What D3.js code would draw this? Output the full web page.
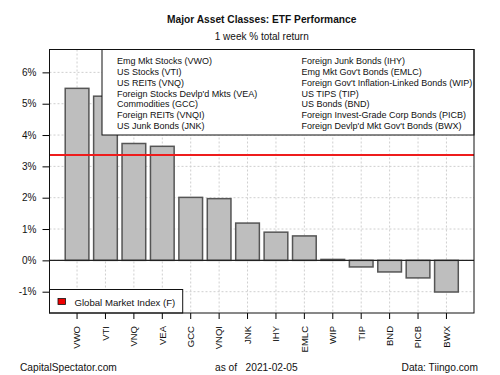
<!DOCTYPE html>
<html>
<head>
<meta charset="utf-8">
<script src="https://cdn.jsdelivr.net/npm/d3@7"></script>
<style>
  body { margin: 0; background: #fff; }
  text { font-family: Arial, "Liberation Sans", sans-serif; fill: #111; }
</style>
</head>
<body>
<div id="chart"></div>
<script>
// tickers in bar order
const tickers = ["VWO", "VTI", "VNQ", "VEA", "GCC", "VNQI", "JNK", "IHY", "EMLC", "WIP", "TIP", "BND", "PICB", "BWX"];
// 1 week % total return
const returns = [5.49, 5.24, 3.73, 3.64, 2.01, 1.97, 1.19, 0.90, 0.78, 0.03, -0.21, -0.37, -0.56, -1.01];
const gmiReturn = 3.36;
const yTicks = [-1, 0, 1, 2, 3, 4, 5, 6];
const legendLeft = ["Emg Mkt Stocks (VWO)", "US Stocks (VTI)", "US REITs (VNQ)", "Foreign Stocks Devlp'd Mkts (VEA)",
  "Commodities (GCC)", "Foreign REITs (VNQI)", "US Junk Bonds (JNK)"];
const legendRight = ["Foreign Junk Bonds (IHY)", "Emg Mkt Gov't Bonds (EMLC)", "Foreign Gov't Inflation-Linked Bonds (WIP)",
  "US TIPS (TIP)", "US Bonds (BND)", "Foreign Invest-Grade Corp Bonds (PICB)", "Foreign Devlp'd Mkt Gov't Bonds (BWX)"];

const W = 500, H = 375;
const plot = { left: 49.5, right: 474, top: 49.5, bottom: 313 };

const svg = d3.select("#chart").append("svg")
  .attr("width", W).attr("height", H);

const x = d3.scaleBand()
  .domain(tickers)
  .range([plot.left, plot.right])
  .paddingInner(1 / 6)
  .paddingOuter(0.553);

const y = d3.scaleLinear()
  .domain([-1.68, 6.73])
  .range([plot.bottom, plot.top]);

// titles
svg.append("text")
  .attr("x", (plot.left + plot.right) / 2).attr("y", 23)
  .attr("text-anchor", "middle")
  .style("font-size", "10.2px").style("font-weight", "bold")
  .text("Major Asset Classes: ETF Performance");
svg.append("text")
  .attr("x", (plot.left + plot.right) / 2).attr("y", 40)
  .attr("text-anchor", "middle")
  .style("font-size", "10px")
  .text("1 week % total return");

// grid
const grid = svg.append("g")
  .attr("stroke", "#cfcfcf")
  .attr("stroke-dasharray", "2,2");
grid.selectAll("line.h")
  .data(yTicks)
  .join("line")
  .attr("x1", plot.left).attr("x2", plot.right)
  .attr("y1", d => y(d)).attr("y2", d => y(d));
grid.selectAll("line.v")
  .data(tickers)
  .join("line")
  .attr("x1", d => x(d) + x.bandwidth() / 2)
  .attr("x2", d => x(d) + x.bandwidth() / 2)
  .attr("y1", plot.top).attr("y2", plot.bottom);

// bars
svg.append("g")
  .selectAll("rect")
  .data(tickers)
  .join("rect")
  .attr("x", d => x(d))
  .attr("width", x.bandwidth())
  .attr("y", (d, i) => y(Math.max(0, returns[i])))
  .attr("height", (d, i) => Math.abs(y(returns[i]) - y(0)))
  .style("fill", "#bebebe")
  .style("stroke", "#555")
  .style("stroke-width", 1.5);

// zero line
svg.append("line")
  .attr("x1", plot.left).attr("x2", plot.right)
  .attr("y1", y(0)).attr("y2", y(0))
  .attr("stroke", "#222").attr("stroke-width", 1.2);

// global market index line
svg.append("line")
  .attr("x1", plot.left).attr("x2", plot.right)
  .attr("y1", y(gmiReturn)).attr("y2", y(gmiReturn))
  .attr("stroke", "#ee1c1c").attr("stroke-width", 2);

// axes
const yAxis = svg.append("g")
  .attr("transform", `translate(${plot.left},0)`)
  .call(d3.axisLeft(y).tickValues(yTicks).tickSize(7).tickPadding(6).tickFormat(d => d + "%"));
yAxis.select(".domain").remove();
yAxis.selectAll("text").style("font-size", "10px").style("fill", "#111");

const xAxis = svg.append("g")
  .attr("transform", `translate(0,${plot.bottom})`)
  .call(d3.axisBottom(x).tickSize(6).tickPadding(7));
xAxis.select(".domain").remove();
xAxis.selectAll("text")
  .style("font-size", "9.5px").style("fill", "#111")
  .attr("transform", "rotate(-90)")
  .attr("text-anchor", "end")
  .attr("x", -13).attr("y", 0).attr("dy", "0.35em");

// top legend
const legTop = svg.append("g");
legTop.append("rect")
  .attr("x", 102).attr("y", plot.top)
  .attr("width", plot.right - 102).attr("height", 135 - plot.top)
  .attr("fill", "#fff").attr("stroke", "#111");
legTop.selectAll("text.l")
  .data(legendLeft)
  .join("text")
  .attr("x", 117).attr("y", (d, i) => 61 + i * 10.8)
  .attr("dy", "0.35em")
  .style("font-size", "9px")
  .text(d => d);
legTop.selectAll("text.r")
  .data(legendRight)
  .join("text")
  .attr("x", 301.5).attr("y", (d, i) => 61 + i * 10.8)
  .attr("dy", "0.35em")
  .style("font-size", "9px")
  .text(d => d);

// bottom legend
const legBot = svg.append("g");
legBot.append("rect")
  .attr("x", plot.left).attr("y", 289.5)
  .attr("width", 182.7 - plot.left).attr("height", plot.bottom - 289.5)
  .attr("fill", "#fff").attr("stroke", "#111");
legBot.append("rect")
  .attr("x", 58).attr("y", 298.5).attr("width", 7.5).attr("height", 6)
  .attr("fill", "#ee0000").attr("stroke", "#111").attr("stroke-width", 0.8);
legBot.append("text")
  .attr("x", 74.5).attr("y", 302.5).attr("dy", "0.35em")
  .style("font-size", "9.6px")
  .text("Global Market Index (F)");

// plot box
svg.append("rect")
  .attr("x", plot.left).attr("y", plot.top)
  .attr("width", plot.right - plot.left).attr("height", plot.bottom - plot.top)
  .attr("fill", "none").attr("stroke", "#111");

// footer
svg.append("text")
  .attr("x", 20).attr("y", 367).attr("dy", "0.35em")
  .style("font-size", "10.2px")
  .text("CapitalSpectator.com");
svg.append("text")
  .attr("x", 215).attr("y", 367).attr("dy", "0.35em")
  .style("font-size", "10.2px")
  .style("white-space", "pre")
  .text("as of   2021-02-05");
svg.append("text")
  .attr("x", 478).attr("y", 367).attr("dy", "0.35em")
  .attr("text-anchor", "end")
  .style("font-size", "10.2px")
  .text("Data: Tiingo.com");
</script>
</body>
</html>
